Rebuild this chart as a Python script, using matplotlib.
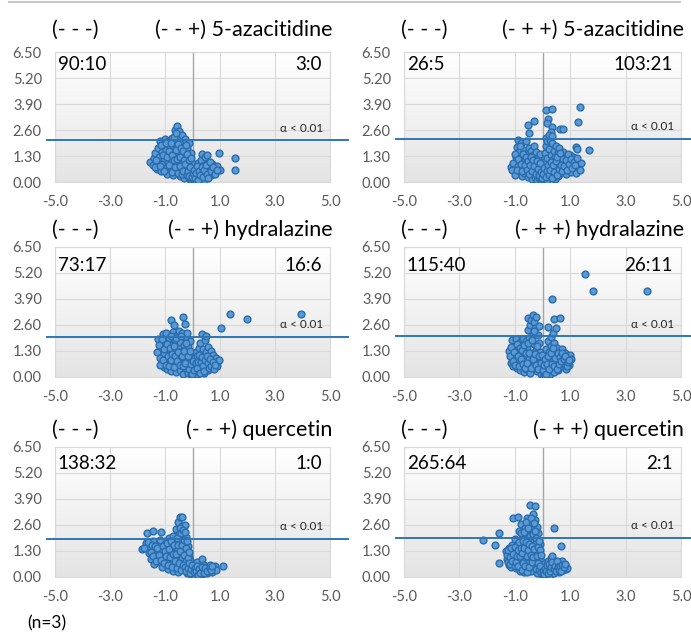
import numpy as np
import matplotlib
matplotlib.use("Agg")
import matplotlib.pyplot as plt
from matplotlib.lines import Line2D
from matplotlib.colors import LinearSegmentedColormap

plt.rcParams['font.family'] = ['Lato', 'DejaVu Sans']

# ---- data: (log2 fold change, -log10 p) ----
aza_m_pts = [
    (-1.55, 1.00), (-1.45, 0.85), (-1.40, 1.20), (-1.35, 1.45), (-1.30, 0.95), (-1.28, 0.65),
    (-1.25, 1.70), (-1.22, 1.25), (-1.18, 2.05), (-1.15, 0.55), (-1.12, 1.50), (-1.10, 0.90),
    (-1.05, 1.85), (-1.02, 1.20), (-1.00, 2.15), (-0.98, 0.70), (-0.95, 1.60), (-0.92, 0.40),
    (-0.90, 1.00), (-0.88, 2.05), (-0.85, 1.35), (-0.82, 1.80), (-0.80, 0.60), (-0.78, 1.15),
    (-0.75, 2.20), (-0.72, 0.35), (-0.70, 1.55), (-0.68, 0.90), (-0.66, 1.95), (-0.64, 2.60),
    (-0.62, 0.50), (-0.60, 1.30), (-0.58, 2.80), (-0.56, 1.75), (-0.54, 0.75), (-0.52, 2.30),
    (-0.50, 1.05), (-0.48, 2.55), (-0.46, 0.30), (-0.45, 1.50), (-0.42, 2.00), (-0.40, 0.60),
    (-0.38, 2.35), (-0.36, 1.20), (-0.34, 0.85), (-0.32, 1.80), (-0.30, 0.20), (-0.28, 2.15),
    (-0.26, 1.40), (-0.24, 0.50), (-0.22, 1.00), (-0.20, 1.70), (-0.18, 0.30), (-0.16, 1.25),
    (-0.14, 0.75), (-0.12, 1.95), (-0.10, 0.15), (-0.09, 0.95), (-0.07, 1.45), (-0.05, 0.40),
    (-0.04, 0.05), (-0.02, 0.65), (0.00, 0.00), (0.02, 0.25), (0.04, 0.90), (0.06, 0.10),
    (0.08, 0.50), (0.10, 0.35), (0.12, 0.75), (0.14, 0.05), (0.16, 0.20), (0.18, 0.60),
    (0.20, 0.95), (0.22, 0.40), (0.25, 0.15), (0.27, 0.70), (0.30, 1.10), (0.32, 0.30),
    (0.35, 1.40), (0.37, 0.55), (0.40, 0.85), (0.42, 0.10), (0.45, 1.25), (0.47, 0.45),
    (0.50, 0.65), (0.52, 1.35), (0.55, 0.25), (0.57, 0.95), (0.60, 0.55), (0.63, 0.80),
    (0.66, 0.35), (0.70, 0.90), (0.73, 0.60), (0.76, 0.40), (0.80, 0.75), (0.85, 0.55),
    (0.90, 0.80), (0.95, 1.45), (1.00, 0.60), (1.55, 1.20), (1.55, 0.60),
    (-1.38, 0.75), (-1.32, 1.10), (-1.20, 0.80), (-1.15, 1.85), (-1.08, 1.35), (-1.02, 0.55),
    (-0.96, 1.95), (-0.93, 1.25), (-0.87, 0.85), (-0.84, 1.55), (-0.79, 1.95), (-0.76, 0.50),
    (-0.73, 1.35), (-0.69, 1.10), (-0.67, 2.25), (-0.63, 0.75), (-0.61, 1.60), (-0.59, 2.45),
    (-0.55, 1.15), (-0.53, 0.45), (-0.51, 1.90), (-0.47, 0.80), (-0.44, 1.25), (-0.41, 1.70),
    (-0.39, 0.40), (-0.35, 1.55), (-0.33, 0.55), (-0.31, 1.10), (-0.27, 0.90), (-0.25, 1.85),
    (-0.21, 0.35), (-0.19, 1.40), (-0.15, 0.55), (-0.13, 1.10), (-0.11, 0.30), (-0.08, 0.75),
    (-0.06, 1.20), (-0.03, 0.25), (0.01, 0.45), (0.05, 0.60), (0.09, 0.20), (0.13, 0.45),
    (0.17, 0.80), (0.21, 0.10), (0.24, 0.55), (0.28, 0.35), (0.33, 0.75), (0.38, 0.25),
    (0.43, 0.60), (0.48, 0.85), (0.53, 0.40), (0.58, 0.20), (0.62, 1.00), (0.68, 0.55),
    (0.75, 0.75), (0.82, 0.40), (0.88, 0.60),
]
aza_p_pts = [
    (-1.15, 0.75), (-1.10, 0.60), (-1.05, 0.95), (-0.98, 0.35), (-0.95, 1.25), (-0.92, 1.75),
    (-0.90, 2.10), (-0.88, 0.80), (-0.85, 1.50), (-0.82, 0.55), (-0.80, 1.05), (-0.78, 1.95),
    (-0.75, 0.30), (-0.72, 1.30), (-0.70, 0.75), (-0.68, 1.60), (-0.65, 0.45), (-0.62, 1.10),
    (-0.60, 2.05), (-0.58, 0.90), (-0.55, 1.45), (-0.52, 0.25), (-0.50, 1.70), (-0.48, 0.65),
    (-0.46, 1.20), (-0.44, 0.40), (-0.42, 1.55), (-0.40, 0.95), (-0.38, 0.15), (-0.36, 1.35),
    (-0.34, 0.70), (-0.32, 1.80), (-0.30, 0.50), (-0.28, 1.05), (-0.26, 0.25), (-0.24, 1.50),
    (-0.22, 0.80), (-0.20, 0.10), (-0.18, 1.20), (-0.16, 0.45), (-0.14, 0.90), (-0.12, 0.20),
    (-0.10, 1.40), (-0.08, 0.60), (-0.06, 0.05), (-0.04, 0.35), (-0.02, 0.80), (0.00, 0.00),
    (0.02, 0.15), (0.04, 0.55), (0.06, 1.00), (0.08, 0.30), (0.10, 1.45), (0.12, 1.80),
    (0.13, 2.20), (0.14, 0.70), (0.15, 2.05), (0.16, 1.20), (0.18, 0.10), (0.20, 0.45),
    (0.22, 1.65), (0.24, 0.90), (0.26, 2.10), (0.28, 0.25), (0.30, 1.35), (0.32, 0.65),
    (0.34, 1.95), (0.36, 1.10), (0.38, 0.40), (0.40, 1.55), (0.42, 0.80), (0.44, 1.25),
    (0.46, 0.15), (0.48, 1.80), (0.50, 0.55), (0.52, 1.00), (0.55, 1.45), (0.57, 0.30),
    (0.60, 1.70), (0.62, 0.75), (0.65, 1.20), (0.68, 0.45), (0.70, 1.00), (0.73, 1.50),
    (0.76, 0.60), (0.80, 1.25), (0.83, 0.85), (0.86, 0.40), (0.90, 1.10), (0.94, 0.70),
    (0.98, 1.35), (1.02, 0.50), (1.06, 0.95), (1.10, 1.25), (1.15, 0.70), (1.20, 1.75),
    (1.22, 0.45), (1.25, 1.65), (1.30, 0.95), (1.35, 0.60), (1.40, 0.95),
    (1.36, 3.75), (1.27, 3.00), (0.12, 3.58), (0.33, 3.65), (0.20, 3.17), (0.18, 2.96),
    (-0.30, 3.03), (-0.54, 2.83), (-0.50, 2.43), (0.64, 2.63), (0.75, 2.66), (1.69, 1.61),
    (0.33, 2.75), (0.30, 2.50), (0.22, 2.35), (0.35, 2.30),
    (-1.00, 1.40), (-0.93, 0.60), (-0.87, 1.15), (-0.83, 1.80), (-0.77, 0.90), (-0.73, 0.55),
    (-0.69, 1.40), (-0.64, 0.85), (-0.59, 1.25), (-0.56, 0.60), (-0.53, 1.05), (-0.49, 0.40),
    (-0.45, 0.85), (-0.41, 1.25), (-0.37, 0.55), (-0.33, 1.10), (-0.29, 0.80), (-0.25, 0.40),
    (-0.21, 1.05), (-0.17, 0.65), (-0.13, 0.35), (-0.09, 0.95), (-0.05, 0.50), (-0.01, 0.20),
    (0.03, 0.40), (0.07, 0.70), (0.11, 0.25), (0.15, 0.55), (0.19, 0.85), (0.23, 0.35),
    (0.27, 0.60), (0.31, 1.00), (0.35, 0.20), (0.39, 0.85), (0.43, 0.50), (0.47, 1.05),
    (0.51, 0.35), (0.54, 1.25), (0.58, 0.65), (0.63, 1.45), (0.67, 0.85), (0.71, 0.55),
    (0.75, 1.15), (0.79, 0.80), (0.84, 1.10), (0.88, 0.60), (0.92, 1.40), (0.96, 0.90),
    (1.04, 1.15), (1.08, 0.70), (1.13, 1.00), (1.18, 0.85), (1.24, 1.20),
]
hyd_m_pts = [
    (-1.30, 1.25), (-1.25, 1.90), (-1.20, 0.95), (-1.15, 1.50), (-1.10, 0.70), (-1.08, 2.15),
    (-1.05, 1.20), (-1.02, 0.50), (-1.00, 1.75), (-0.98, 0.90), (-0.95, 2.20), (-0.92, 0.40),
    (-0.90, 1.40), (-0.88, 0.75), (-0.85, 1.95), (-0.82, 1.10), (-0.80, 0.30), (-0.78, 2.84),
    (-0.76, 1.60), (-0.74, 0.60), (-0.72, 2.25), (-0.70, 1.30), (-0.67, 2.58), (-0.65, 0.85),
    (-0.62, 1.85), (-0.60, 0.25), (-0.58, 1.15), (-0.56, 2.10), (-0.54, 0.55), (-0.52, 1.50),
    (-0.50, 0.95), (-0.48, 2.30), (-0.46, 0.35), (-0.44, 1.75), (-0.42, 1.25), (-0.40, 0.70),
    (-0.38, 2.20), (-0.36, 0.15), (-0.34, 1.05), (-0.33, 3.00), (-0.31, 1.60), (-0.29, 2.63),
    (-0.27, 0.45), (-0.25, 2.00), (-0.23, 1.35), (-0.21, 0.80), (-0.19, 2.20), (-0.17, 0.20),
    (-0.15, 1.55), (-0.13, 1.00), (-0.11, 0.55), (-0.09, 1.80), (-0.07, 0.10), (-0.05, 1.20),
    (-0.03, 0.35), (-0.01, 0.75), (0.00, 0.00), (0.02, 0.20), (0.04, 0.55), (0.06, 0.95),
    (0.08, 0.05), (0.10, 0.40), (0.12, 1.25), (0.14, 0.70), (0.16, 0.15), (0.18, 1.05),
    (0.20, 0.50), (0.22, 1.45), (0.24, 0.25), (0.26, 0.85), (0.28, 1.70), (0.30, 0.40),
    (0.32, 1.15), (0.34, 2.14), (0.36, 0.65), (0.38, 1.40), (0.40, 0.20), (0.42, 0.95),
    (0.44, 1.85), (0.46, 0.50), (0.48, 1.25), (0.50, 2.04), (0.52, 0.75), (0.55, 1.50),
    (0.58, 0.35), (0.60, 1.05), (0.63, 0.60), (0.66, 1.30), (0.70, 0.85), (0.73, 0.45),
    (0.76, 1.10), (0.80, 0.70), (0.84, 0.95), (0.88, 0.55), (0.92, 0.80), (0.95, 0.85),
    (1.04, 2.43), (1.35, 3.13), (1.99, 2.88), (3.94, 3.16),
    (-1.22, 1.60), (-1.18, 0.60), (-1.12, 1.90), (-1.07, 0.85), (-1.03, 1.40), (-0.97, 0.60),
    (-0.94, 1.65), (-0.89, 1.05), (-0.86, 0.55), (-0.83, 1.45), (-0.79, 0.85), (-0.77, 2.05),
    (-0.73, 1.15), (-0.69, 0.50), (-0.66, 1.55), (-0.63, 1.05), (-0.59, 1.95), (-0.55, 0.80),
    (-0.51, 1.25), (-0.47, 0.60), (-0.43, 2.05), (-0.39, 1.05), (-0.35, 0.55), (-0.30, 1.30),
    (-0.26, 0.70), (-0.22, 1.70), (-0.18, 1.05), (-0.14, 0.40), (-0.10, 1.30), (-0.06, 0.65),
    (-0.02, 0.15), (0.03, 0.80), (0.07, 0.35), (0.11, 0.70), (0.15, 0.45), (0.19, 0.75),
    (0.23, 1.10), (0.27, 0.20), (0.31, 0.75), (0.35, 1.00), (0.39, 0.55), (0.43, 0.30),
    (0.47, 0.85), (0.51, 1.05), (0.56, 0.70), (0.61, 0.45), (0.65, 0.90), (0.69, 0.55),
    (0.74, 0.75), (0.78, 0.40), (0.83, 0.60),
]
hyd_p_pts = [
    (-1.20, 1.30), (-1.15, 0.70), (-1.12, 1.00), (-1.10, 1.85), (-1.05, 0.55), (-1.02, 1.55),
    (-1.00, 0.85), (-0.97, 1.20), (-0.95, 1.90), (-0.92, 0.45), (-0.90, 1.40), (-0.88, 0.75),
    (-0.85, 1.05), (-0.82, 1.75), (-0.80, 0.35), (-0.78, 1.25), (-0.76, 0.60), (-0.74, 1.60),
    (-0.72, 0.95), (-0.70, 1.90), (-0.68, 0.25), (-0.66, 1.35), (-0.64, 0.70), (-0.62, 1.05),
    (-0.60, 1.80), (-0.58, 0.40), (-0.56, 1.50), (-0.54, 2.35), (-0.52, 2.95), (-0.50, 0.90),
    (-0.48, 1.95), (-0.46, 0.20), (-0.44, 2.60), (-0.42, 1.20), (-0.40, 2.85), (-0.38, 0.55),
    (-0.36, 2.20), (-0.34, 3.11), (-0.32, 1.65), (-0.30, 2.75), (-0.28, 0.85), (-0.26, 2.45),
    (-0.24, 1.35), (-0.22, 3.00), (-0.20, 0.30), (-0.18, 2.10), (-0.16, 1.00), (-0.14, 2.55),
    (-0.12, 1.70), (-0.10, 0.60), (-0.08, 1.25), (-0.06, 0.15), (-0.04, 0.90), (-0.02, 0.40),
    (0.00, 0.00), (0.02, 0.70), (0.04, 0.20), (0.06, 1.10), (0.08, 0.45), (0.10, 0.05),
    (0.12, 0.85), (0.14, 1.40), (0.16, 0.30), (0.18, 1.00), (0.20, 1.80), (0.22, 0.55),
    (0.24, 1.25), (0.26, 0.15), (0.28, 0.75), (0.30, 1.55), (0.32, 2.00), (0.34, 0.40),
    (0.36, 1.10), (0.38, 0.90), (0.40, 1.70), (0.42, 0.25), (0.45, 1.30), (0.48, 0.60),
    (0.50, 1.05), (0.53, 1.45), (0.56, 0.35), (0.60, 0.85), (0.63, 1.20), (0.66, 0.55),
    (0.70, 1.40), (0.73, 0.95), (0.76, 0.65), (0.80, 1.20), (0.84, 0.40), (0.88, 0.80),
    (0.92, 1.05), (0.95, 0.60), (1.00, 1.10), (1.02, 0.90),
    (0.20, 2.50), (0.39, 2.20), (0.50, 2.45), (0.42, 2.90), (0.64, 2.95), (0.33, 3.88),
    (1.55, 5.16), (1.84, 4.30), (3.76, 4.30),
    (-1.18, 1.05), (-1.13, 1.50), (-1.08, 0.80), (-1.03, 1.25), (-0.98, 0.60), (-0.93, 1.65),
    (-0.89, 1.05), (-0.86, 0.55), (-0.83, 1.45), (-0.79, 0.90), (-0.75, 1.35), (-0.71, 0.65),
    (-0.67, 1.60), (-0.63, 0.45), (-0.59, 1.20), (-0.55, 0.70), (-0.51, 1.70), (-0.47, 1.20),
    (-0.43, 0.45), (-0.39, 1.85), (-0.35, 0.90), (-0.31, 2.30), (-0.27, 1.15), (-0.23, 0.60),
    (-0.19, 1.55), (-0.15, 0.40), (-0.11, 1.05), (-0.07, 0.70), (-0.03, 1.10), (0.01, 0.35),
    (0.05, 0.60), (0.09, 0.90), (0.13, 0.15), (0.17, 0.65), (0.21, 1.05), (0.25, 0.40),
    (0.29, 1.20), (0.33, 0.65), (0.37, 1.45), (0.41, 0.55), (0.46, 0.95), (0.51, 0.40),
    (0.55, 1.20), (0.59, 0.65), (0.64, 1.00), (0.68, 0.80), (0.72, 1.20), (0.78, 0.90),
    (0.83, 1.05), (0.87, 0.55), (0.91, 0.75), (0.97, 0.85),
]
que_m_pts = [
    (-1.83, 1.40), (-1.70, 1.70), (-1.65, 2.22), (-1.60, 1.20), (-1.55, 1.50), (-1.50, 0.90),
    (-1.45, 1.80), (-1.43, 2.30), (-1.40, 0.65), (-1.35, 1.30), (-1.30, 1.05), (-1.25, 1.65),
    (-1.20, 0.75), (-1.16, 2.25), (-1.12, 1.40), (-1.10, 0.50), (-1.05, 1.10), (-1.00, 1.80),
    (-0.97, 0.80), (-0.94, 1.45), (-0.90, 0.40), (-0.87, 1.20), (-0.84, 1.95), (-0.80, 0.65),
    (-0.78, 1.55), (-0.75, 1.00), (-0.72, 0.30), (-0.70, 2.05), (-0.68, 1.30), (-0.65, 0.55),
    (-0.63, 1.75), (-0.60, 2.40), (-0.58, 0.90), (-0.56, 1.45), (-0.54, 2.75), (-0.52, 0.25),
    (-0.50, 2.15), (-0.48, 1.15), (-0.46, 3.00), (-0.44, 0.60), (-0.42, 1.85), (-0.40, 2.55),
    (-0.38, 0.95), (-0.37, 2.98), (-0.35, 1.40), (-0.33, 2.25), (-0.31, 0.40), (-0.29, 1.70),
    (-0.27, 2.60), (-0.25, 0.80), (-0.23, 2.00), (-0.21, 1.25), (-0.19, 0.20), (-0.17, 1.55),
    (-0.15, 0.65), (-0.13, 1.05), (-0.11, 0.35), (-0.09, 0.85), (-0.07, 0.15), (-0.05, 0.55),
    (-0.03, 0.30), (-0.01, 0.05), (0.00, 0.00), (0.02, 0.20), (0.04, 0.40), (0.06, 0.10),
    (0.08, 0.65), (0.10, 0.30), (0.12, 0.50), (0.15, 0.15), (0.18, 0.75), (0.21, 0.35),
    (0.24, 0.20), (0.27, 0.55), (0.30, 0.40), (0.33, 0.90), (0.36, 0.15), (0.40, 0.60),
    (0.44, 0.30), (0.48, 0.50), (0.52, 0.20), (0.56, 0.40), (0.60, 0.30), (0.65, 0.60),
    (0.70, 0.25), (0.75, 0.45), (0.80, 0.55), (0.85, 0.35), (1.10, 0.55),
    (-1.75, 1.45), (-1.62, 1.75), (-1.52, 1.25), (-1.48, 1.60), (-1.42, 1.05), (-1.38, 1.55),
    (-1.33, 0.80), (-1.28, 1.45), (-1.22, 1.10), (-1.18, 1.85), (-1.14, 0.85), (-1.08, 1.55),
    (-1.03, 0.70), (-0.99, 1.30), (-0.95, 1.05), (-0.92, 1.70), (-0.88, 0.60), (-0.85, 1.40),
    (-0.82, 1.00), (-0.77, 1.80), (-0.74, 0.50), (-0.71, 1.15), (-0.67, 1.60), (-0.64, 0.80),
    (-0.61, 1.15), (-0.57, 1.95), (-0.55, 0.45), (-0.51, 1.60), (-0.49, 0.70), (-0.47, 2.45),
    (-0.45, 1.30), (-0.43, 2.20), (-0.41, 0.35), (-0.39, 1.60), (-0.36, 2.35), (-0.34, 0.60),
    (-0.32, 1.85), (-0.30, 1.10), (-0.28, 2.25), (-0.26, 0.50), (-0.24, 1.45), (-0.22, 0.30),
    (-0.20, 1.80), (-0.18, 0.95), (-0.16, 0.45), (-0.14, 1.25), (-0.12, 0.70), (-0.10, 0.20),
    (-0.06, 0.40), (-0.02, 0.60), (0.05, 0.25), (0.09, 0.45), (0.13, 0.30), (0.16, 0.55),
    (0.20, 0.10), (0.25, 0.40), (0.29, 0.20), (0.35, 0.50), (0.42, 0.20), (0.46, 0.45),
    (0.54, 0.30), (0.62, 0.45), (0.68, 0.35), (0.72, 0.55),
]
que_p_pts = [
    (-2.14, 1.84), (-1.72, 1.60), (-1.57, 2.22), (-1.57, 0.71), (-1.30, 1.30), (-1.28, 0.90),
    (-1.25, 1.10), (-1.22, 0.60), (-1.20, 1.45), (-1.17, 0.80), (-1.15, 1.25), (-1.12, 0.50),
    (-1.10, 1.60), (-1.07, 0.95), (-1.06, 2.96), (-1.04, 1.35), (-1.02, 0.70), (-1.00, 1.90),
    (-0.97, 1.15), (-0.95, 0.45), (-0.92, 1.55), (-0.90, 0.85), (-0.88, 3.00), (-0.86, 2.30),
    (-0.84, 1.30), (-0.82, 0.30), (-0.80, 1.75), (-0.78, 1.00), (-0.76, 2.65), (-0.74, 0.60),
    (-0.72, 2.05), (-0.70, 1.40), (-0.68, 0.25), (-0.66, 1.85), (-0.64, 0.90), (-0.62, 2.45),
    (-0.60, 1.20), (-0.58, 0.45), (-0.56, 2.95), (-0.54, 1.60), (-0.52, 2.20), (-0.50, 0.75),
    (-0.48, 1.05), (-0.46, 2.70), (-0.44, 3.62), (-0.42, 1.85), (-0.40, 0.30), (-0.38, 2.40),
    (-0.36, 3.15), (-0.34, 1.35), (-0.32, 0.60), (-0.30, 2.05), (-0.28, 3.55), (-0.27, 2.85),
    (-0.25, 0.95), (-0.23, 1.70), (-0.21, 2.50), (-0.19, 0.20), (-0.17, 1.25), (-0.15, 2.20),
    (-0.13, 0.55), (-0.11, 1.00), (-0.09, 1.65), (-0.07, 0.30), (-0.05, 0.80), (-0.03, 0.10),
    (-0.01, 0.45), (0.00, 0.00), (0.02, 0.20), (0.04, 0.55), (0.06, 0.05), (0.08, 0.35),
    (0.10, 0.70), (0.12, 0.15), (0.14, 0.50), (0.17, 0.25), (0.20, 0.80), (0.23, 0.40),
    (0.26, 0.10), (0.29, 0.60), (0.32, 0.95), (0.35, 0.30), (0.38, 0.55), (0.42, 2.43),
    (0.42, 0.20), (0.46, 0.70), (0.50, 0.40), (0.54, 0.60), (0.58, 0.25), (0.62, 0.75),
    (0.66, 1.56), (0.66, 0.45), (0.70, 0.80), (0.75, 0.35), (0.80, 0.60), (0.85, 0.40),
    (0.90, 0.45), (0.34, 1.05),
    (-1.29, 1.10), (-1.26, 0.75), (-1.23, 1.35), (-1.19, 1.00), (-1.16, 0.65), (-1.13, 1.45),
    (-1.09, 0.80), (-1.05, 1.15), (-1.01, 0.55), (-0.98, 1.50), (-0.96, 0.75), (-0.93, 1.05),
    (-0.89, 1.35), (-0.87, 0.55), (-0.85, 1.75), (-0.81, 1.05), (-0.79, 2.20), (-0.77, 1.45),
    (-0.75, 0.35), (-0.73, 1.20), (-0.71, 1.80), (-0.69, 0.70), (-0.67, 2.25), (-0.65, 1.45),
    (-0.63, 0.55), (-0.61, 1.75), (-0.59, 2.75), (-0.57, 1.05), (-0.55, 0.25), (-0.53, 1.35),
    (-0.51, 2.45), (-0.49, 1.65), (-0.47, 0.50), (-0.45, 2.05), (-0.43, 1.10), (-0.41, 2.95),
    (-0.39, 1.55), (-0.37, 0.75), (-0.35, 2.15), (-0.33, 1.00), (-0.31, 2.70), (-0.29, 1.40),
    (-0.26, 2.30), (-0.24, 0.40), (-0.22, 1.95), (-0.20, 1.05), (-0.18, 1.50), (-0.16, 0.70),
    (-0.14, 1.80), (-0.12, 0.35), (-0.10, 1.35), (-0.08, 0.55), (-0.06, 1.10), (-0.04, 0.25),
    (0.01, 0.30), (0.05, 0.15), (0.09, 0.45), (0.13, 0.30), (0.16, 0.60), (0.21, 0.20),
    (0.24, 0.65), (0.28, 0.30), (0.31, 0.50), (0.36, 0.75), (0.40, 0.40), (0.44, 0.55),
    (0.48, 0.30), (0.52, 0.80), (0.56, 0.50), (0.60, 0.35), (0.64, 0.55), (0.68, 0.30),
    (0.72, 0.60), (0.78, 0.50), (0.83, 0.65),
]

titles = ["(- - +) 5-azacitidine", "(- + +) 5-azacitidine",
          "(- - +) hydralazine", "(- + +) hydralazine",
          "(- - +) quercetin", "(- + +) quercetin"]
left_counts = ["90:10", "26:5", "73:17", "115:40", "138:32", "265:64"]
right_counts = ["3:0", "103:21", "16:6", "26:11", "1:0", "2:1"]
thresholds = [2.10, 2.15, 2.02, 2.03, 1.92, 1.96]
all_pts = [aza_m_pts, aza_p_pts, hyd_m_pts, hyd_p_pts, que_m_pts, que_p_pts]

x_ticks = [-5.0, -3.0, -1.0, 1.0, 3.0, 5.0]
y_ticks = [0.0, 1.3, 2.6, 3.9, 5.2, 6.5]

W, H = 691, 632
fig = plt.figure(figsize=(W / 100, H / 100), dpi=100)

# axes boxes in pixels
col_left = [55, 404]
col_w = [275, 277]
row_top = [52, 247, 447]
row_h = 130
title_off = [1.17, 1.13, 1.13]
count_y = [0.90, 0.86, 0.87]

grad = np.linspace(0, 1, 256).reshape(-1, 1)
bg_cmap = LinearSegmentedColormap.from_list("bg", ["#e4e4e4", "#ffffff"])

for i in range(6):
    r, c = divmod(i, 2)
    ax = fig.add_axes([col_left[c] / W, 1 - (row_top[r] + row_h) / H, col_w[c] / W, row_h / H])
    ax.imshow(grad, extent=[0, 1, 0, 1], transform=ax.transAxes, cmap=bg_cmap,
              origin='lower', aspect='auto', zorder=0)
    ax.set_xlim(-5, 5)
    ax.set_ylim(0, 6.5)
    ax.set_xticks(x_ticks)
    ax.set_yticks(y_ticks)
    ax.set_xticklabels([f"{v:.1f}" for v in x_ticks])
    ax.set_yticklabels([f"{v:.2f}" for v in y_ticks])
    ax.tick_params(length=0, colors='#595959', labelsize=10.5)
    ax.tick_params(axis='x', pad=9.5)
    ax.tick_params(axis='y', pad=9.5)
    ax.grid(True, color='#d9d9d9', lw=0.8, zorder=1)
    ax.set_axisbelow(True)
    for s in ax.spines.values():
        s.set_color('#d9d9d9')
        s.set_linewidth(0.8)
    ax.axvline(0, color='#a6a6a6', lw=1.0, zorder=2)

    pts = np.array(all_pts[i])
    ax.scatter(pts[:, 0], pts[:, 1], s=24, facecolor='#5b99d4', edgecolor='#286cad',
               linewidth=1.0, zorder=3)

    ax.plot([-5.3, 5.65], [thresholds[i]] * 2, color='#2e75b6', lw=1.4,
            clip_on=False, zorder=4)
    ax.text(0.975, thresholds[i] + 0.6, "α < 0.01", transform=ax.get_yaxis_transform(),
            ha='right', va='center', fontsize=8.5, color='#262626')

    ax.text(0.01, count_y[r], left_counts[i], transform=ax.transAxes,
            ha='left', va='center', fontsize=13.5, color='black')
    ax.text(0.97, count_y[r], right_counts[i], transform=ax.transAxes,
            ha='right', va='center', fontsize=13.5, color='black')

    ax.text(-0.01, title_off[r], "(- - -)", transform=ax.transAxes,
            ha='left', va='center', fontsize=15.5, color='black')
    ax.text(1.01, title_off[r], titles[i], transform=ax.transAxes,
            ha='right', va='center', fontsize=15.5, color='black')

fig.add_artist(Line2D([0.013, 0.984], [0.997, 0.997], color='#c8c8c8', lw=1.5))
fig.text(27 / W, 1 - 623 / H, "(n=3)", ha='left', va='center', fontsize=12.5)

fig.savefig("out.png", dpi=100)
